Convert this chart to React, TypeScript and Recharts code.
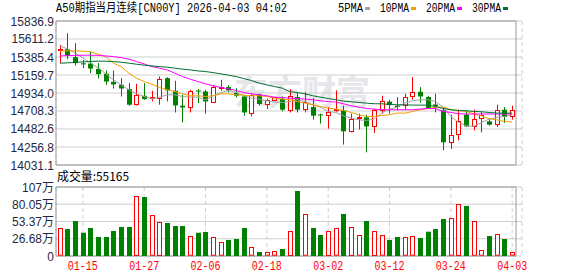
import React from 'react';
import { ComposedChart, Bar, Line, XAxis, YAxis, CartesianGrid, ReferenceArea } from 'recharts';

const dates = ['01-12','01-13','01-14','01-15','01-16','01-19','01-20','01-21','01-22','01-23','01-26','01-27','01-28','01-29','01-30','02-02','02-03','02-04','02-05','02-06','02-09','02-10','02-11','02-12','02-13','02-16','02-17','02-18','02-19','02-20','02-23','02-24','02-25','02-26','02-27','03-02','03-03','03-04','03-05','03-06','03-09','03-10','03-11','03-12','03-13','03-16','03-17','03-18','03-19','03-20','03-23','03-24','03-25','03-26','03-27','03-30','03-31','04-01','04-02','04-03'];
const opens = [15480,15483,15383,15306,15303,15237,15175,15074,15037,14983,14795,14899,14880,14870,15120,14962,14775,14758,14965,14953,14820,15000,15008,14937,14891,14683,14916,14800,14845,14862,14716,14883,14733,14758,14665,14654,14716,14716,14453,14615,14628,14515,14725,14825,14775,14787,14891,14950,14883,14790,14716,14320,14420,14662,14515,14620,14578,14546,14725,14650];
const highs = [15537,15683,15558,15350,15453,15308,15216,15216,15120,15058,15049,15058,14962,15141,15133,15087,14912,14975,14983,14975,15033,15099,15033,14995,14912,14925,14925,14862,14880,14891,14983,14941,14941,14870,14675,14758,14966,14775,14675,14675,14662,14733,14900,14850,14883,14925,15133,15008,14900,14925,14758,14662,14725,14716,14725,14700,14608,14787,14758,14775];
const lows = [15312,15358,15278,15245,15183,15116,15037,14990,14890,14774,14778,14849,14828,14787,14828,14690,14565,14690,14808,14675,14808,14962,14941,14878,14650,14640,14774,14733,14840,14704,14690,14690,14690,14600,14550,14487,14700,14287,14440,14475,14190,14433,14675,14675,14716,14725,14850,14816,14733,14690,14215,14233,14340,14508,14465,14440,14525,14508,14558,14600];
const closes = [15488,15403,15308,15300,15241,15170,15078,15041,14990,14787,14903,14858,14890,15108,14966,14778,14753,14962,14958,14828,15003,15006,14966,14900,14690,14912,14795,14850,14878,14725,14891,14725,14820,14650,14658,14700,14733,14453,14612,14630,14515,14725,14833,14783,14758,14883,14945,14891,14741,14770,14316,14412,14578,14515,14608,14653,14537,14725,14633,14725];
const volumes = [42.8,41.8,54.1,36,43.3,29.4,29.4,38.7,44.9,44.9,92.8,91.3,63,52.6,51,46.4,46.4,30.5,36,37.1,28.9,21.2,24.8,26.3,43.3,13.5,6.2,5.7,7.3,10.8,38.7,100.6,64.5,43.3,32.5,38.7,42.8,65,44.9,32,54.1,38.7,32,24.8,29.4,28.9,30.5,27.8,37.6,41.8,57.2,58.3,80.4,77.4,53.7,8.8,30.9,33.6,26.3,5.5165];
const ma5 = [15524,15487,15437,15374,15311,15249,15174,15099,15036,14974,14924,14890,14861,14882,14911,14911,14890,14882,14882,14849,14899,14940,14965,14940,14899,14870,14857,14836,14820,14815,14827,14849,14827,14786,14757,14702,14690,14648,14620,14598,14590,14607,14682,14732,14757,14807,14836,14849,14849,14827,14757,14640,14565,14523,14515,14565,14607,14627,14640,14661];
const ma10 = [15462,15462,15462,15458,15453,15420,15390,15308,15265,15183,15120,15078,15045,15003,14974,14952,14924,14899,14899,14890,14899,14924,14924,14911,14907,14899,14899,14890,14870,14857,14849,14827,14807,14786,14765,14745,14732,14715,14690,14661,14640,14640,14652,14661,14682,14682,14702,14724,14740,14757,14757,14724,14715,14702,14674,14648,14611,14598,14577,14570];
const ma20 = [15399,15403,15406,15408,15408,15406,15399,15390,15378,15358,15328,15299,15265,15245,15224,15183,15140,15108,15078,15049,15024,15003,14986,14965,14940,14924,14911,14899,14882,14877,14870,14865,14857,14849,14836,14827,14820,14799,14774,14757,14740,14732,14724,14724,14724,14724,14724,14732,14740,14740,14702,14690,14674,14670,14670,14670,14670,14670,14670,14670];
const ma30 = [15308,15312,15318,15324,15330,15333,15333,15328,15320,15308,15295,15283,15274,15265,15258,15245,15233,15224,15211,15203,15190,15174,15158,15140,15115,15090,15058,15036,15015,14995,14952,14940,14924,14899,14882,14865,14849,14832,14824,14815,14807,14799,14799,14790,14786,14786,14782,14782,14782,14765,14740,14724,14715,14711,14702,14699,14690,14682,14682,14682];

const priceTicks = [14031.1, 14256.8, 14482.6, 14708.3, 14934.0, 15159.7, 15385.4, 15611.2, 15836.9];
const volTicks = [0, 26.68, 53.37, 80.05, 106.73];
const volTickLabels = ['0', '26.68万', '53.37万', '80.05万', '107万'];
const dateTicks = ['01-15', '01-27', '02-06', '02-18', '03-02', '03-12', '03-24', '04-03'];
const title = 'A50期指当月连续[CN00Y] 2026-04-03 04:02';
const volumeLabel = '成交量:55165';
const legendItems = [
  { name: '5PMA', color: '#a0a0a0' },
  { name: '10PMA', color: '#f0a000' },
  { name: '20PMA', color: '#ff00ff' },
  { name: '30PMA', color: '#006f32' },
];

const RED = '#ff0000';
const GREEN = '#008000';
const GRID = '#cfcfcf';
const BORDER = '#999999';
const LABEL = '#1e2a44';

const data = dates.map((date, i) => ({
  date,
  open: opens[i],
  high: highs[i],
  low: lows[i],
  close: closes[i],
  vol: volumes[i],
  ma5: ma5[i],
  ma10: ma10[i],
  ma20: ma20[i],
  ma30: ma30[i],
}));

const Candle = (props: any) => {
  const { x, y, width, height, payload } = props;
  if (x == null || y == null) return null;
  const { open, close, high, low } = payload;
  const up = close > open;
  const color = up ? RED : GREEN;
  const span = high - low || 1;
  const yOf = (v: number) => y + ((high - v) / span) * height;
  const cx = Math.round(x + width / 2) + 0.5;
  const bTop = yOf(Math.max(open, close));
  const bBot = yOf(Math.min(open, close));
  const yHigh = yOf(high);
  const yLow = yOf(low);
  const bodyH = bBot - bTop;
  if (up) {
    const t = Math.round(bTop) + 0.5;
    const b = Math.max(Math.round(bBot) + 0.5, t + 1);
    return (
      <g>
        <line x1={cx} x2={cx} y1={yHigh} y2={t} stroke={color} strokeWidth={1} />
        <line x1={cx} x2={cx} y1={b} y2={yLow} stroke={color} strokeWidth={1} />
        <rect x={cx - 2} y={t} width={4} height={b - t} fill="#fff" stroke={color} strokeWidth={1} />
      </g>
    );
  }
  return (
    <g>
      <line x1={cx} x2={cx} y1={yHigh} y2={yLow} stroke={color} strokeWidth={1} />
      <rect x={cx - 2.5} y={bTop} width={5} height={Math.max(bodyH, 1)} fill={color} />
    </g>
  );
};

const VolBar = (props: any) => {
  const { x, y, width, height, payload } = props;
  if (x == null || y == null) return null;
  const up = payload.close > payload.open;
  const cx = Math.round(x + width / 2) + 0.5;
  if (up) {
    return <rect x={cx - 2} y={Math.round(y) + 0.5} width={4} height={Math.max(height - 1, 1)} fill="#fff" stroke={RED} strokeWidth={1} />;
  }
  return <rect x={cx - 2.5} y={y} width={5} height={height} fill={GREEN} />;
};

const PriceTick = (props: any) => {
  const { y, payload } = props;
  return (
    <text x={54} y={y + 4.5} textAnchor="end" fontSize={12} fontFamily="'Liberation Sans', Arial, sans-serif" fill={LABEL}>
      {payload.value.toFixed(1)}
    </text>
  );
};

const VolTick = (props: any) => {
  const { y, payload } = props;
  const idx = volTicks.indexOf(payload.value);
  return (
    <text x={54} y={y + 4.5} textAnchor="end" fontSize={12} fontFamily="'Liberation Sans', 'Noto Sans CJK SC', sans-serif" fill={LABEL}>
      {volTickLabels[idx]}
    </text>
  );
};

const DateTick = (props: any) => {
  const { x, payload } = props;
  return (
    <text x={x} y={100} textAnchor="middle" fontSize={12} fontFamily="'Liberation Mono', monospace" fill={RED} textLength={30} lengthAdjust="spacingAndGlyphs">
      {payload.value}
    </text>
  );
};

export default function App() {
  return (
    <div style={{ position: 'absolute', left: 0, top: 0, width: 578, height: 276, background: '#fff', overflow: 'hidden' }}>
      <svg width={578} height={276} style={{ position: 'absolute', left: 0, top: 0 }}>
        <text x={234} y={105} fontSize={34} fontWeight="bold" fontFamily="'Noto Sans CJK SC', sans-serif" fill="#e6e6ea">东方财富</text>
      </svg>
      <div style={{ position: 'absolute', left: 0, top: 0 }}>
        <ComposedChart width={578} height={178} data={data} margin={{ top: 21, right: 56, left: 0, bottom: 12 }}>
          <CartesianGrid horizontal vertical={false} stroke={GRID} />
          <CartesianGrid horizontal={false} vertical stroke={GRID} strokeDasharray="4 3" />
          <XAxis
            dataKey="date"
            ticks={dateTicks}
            interval={0}
            height={1}
            tick={false}
            axisLine={false}
            tickLine={false}
            padding={{ left: 0, right: 6 }}
          />
          <YAxis
            domain={[14031.1, 15836.9]}
            ticks={priceTicks}
            width={56}
            axisLine={false}
            tickLine={false}
            tick={<PriceTick />}
            interval={0}
            allowDataOverflow
          />
          <ReferenceArea y1={14031.1} y2={15836.9} fill="none" stroke={BORDER} strokeWidth={1} ifOverflow="visible" />
          <Bar dataKey={(d: any) => [d.low, d.high]} barSize={5} shape={<Candle />} isAnimationActive={false} />
          <Line dataKey="ma5" stroke={legendItems[0].color} dot={false} strokeWidth={1} isAnimationActive={false} />
          <Line dataKey="ma10" stroke={legendItems[1].color} dot={false} strokeWidth={1} isAnimationActive={false} />
          <Line dataKey="ma20" stroke={legendItems[2].color} dot={false} strokeWidth={1} isAnimationActive={false} />
          <Line dataKey="ma30" stroke={legendItems[3].color} dot={false} strokeWidth={1} isAnimationActive={false} />
        </ComposedChart>
      </div>
      <div style={{ position: 'absolute', left: 0, top: 170 }}>
        <ComposedChart width={578} height={106} data={data} margin={{ top: 17, right: 56, left: 0, bottom: 0 }}>
          <CartesianGrid horizontal vertical={false} stroke={GRID} />
          <CartesianGrid horizontal={false} vertical stroke={GRID} strokeDasharray="4 3" />
          <XAxis
            dataKey="date"
            ticks={dateTicks}
            interval={0}
            height={20}
            axisLine={false}
            tickLine={false}
            padding={{ left: 0, right: 6 }}
            tick={<DateTick />}
          />
          <YAxis domain={[0, 106.73]} ticks={volTicks} width={56} axisLine={false} tickLine={false} tick={<VolTick />} interval={0} />
          <ReferenceArea y1={0} y2={106.73} fill="none" stroke={BORDER} strokeWidth={1} ifOverflow="visible" />
          <Bar dataKey="vol" barSize={5} shape={<VolBar />} isAnimationActive={false} />
        </ComposedChart>
      </div>
      <svg width={578} height={276} style={{ position: 'absolute', left: 0, top: 0, pointerEvents: 'none' }}>
        <text x={56} y={12} fontSize={12} fontFamily="'Liberation Mono', 'Noto Sans CJK SC', monospace" fill="#000" textLength={231} lengthAdjust="spacingAndGlyphs">{title}</text>
        {legendItems.map((it, i) => {
          const starts = [338, 380, 426, 472];
          const lens = [25, 29, 29, 29];
          const x = starts[i];
          return (
            <g key={it.name}>
              <text x={x} y={12} fontSize={12} fontFamily="'Liberation Mono', monospace" fill="#000" textLength={lens[i]} lengthAdjust="spacingAndGlyphs">{it.name}</text>
              <rect x={x + lens[i] + 2} y={7} width={5} height={3} fill={it.color} />
            </g>
          );
        })}
        <text x={57} y={181} fontSize={12} fontFamily="'Noto Sans CJK SC', 'Liberation Sans', sans-serif" fill="#000" textLength={72} lengthAdjust="spacingAndGlyphs">{volumeLabel}</text>
      </svg>
    </div>
  );
}
